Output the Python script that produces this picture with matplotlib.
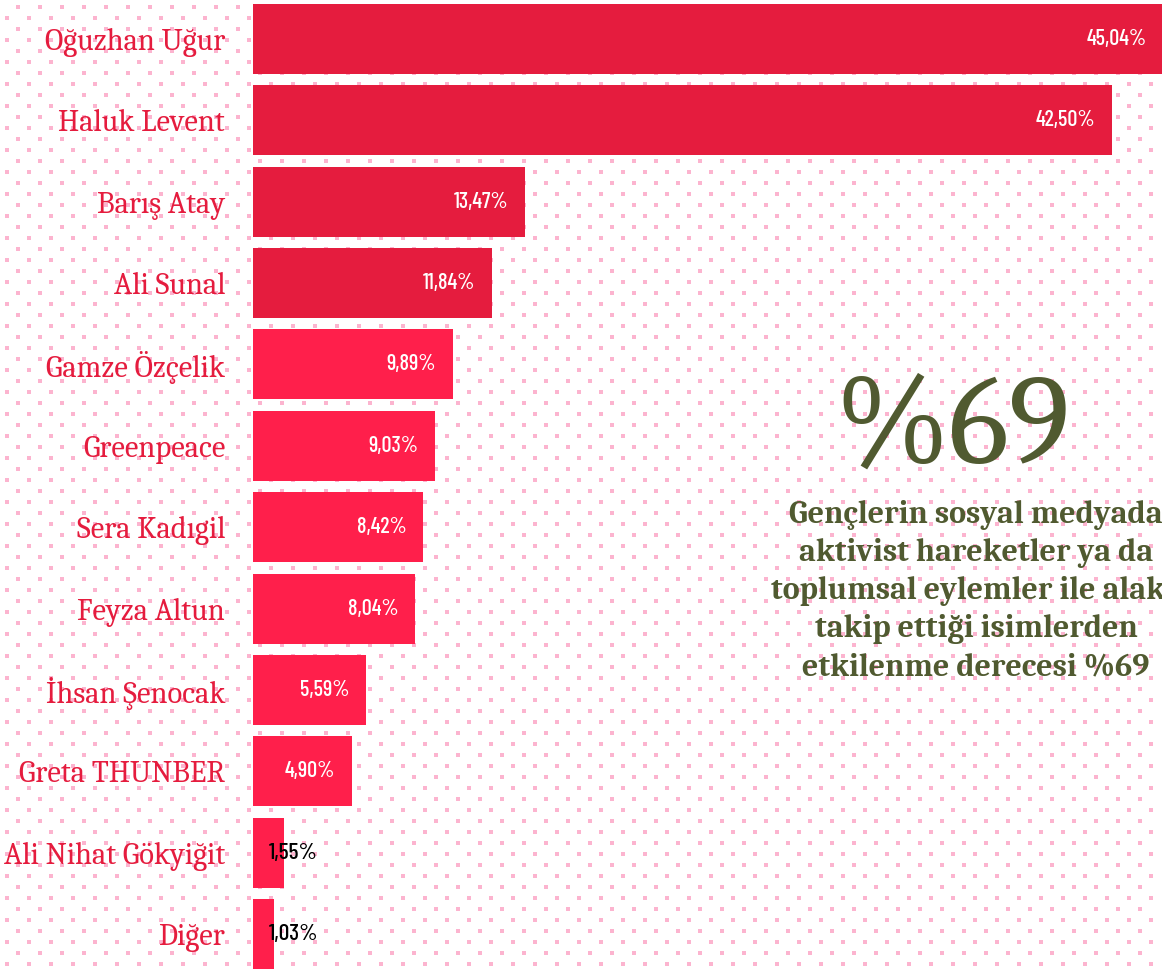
import numpy as np
import matplotlib
matplotlib.use("Agg")
import matplotlib.pyplot as plt

names = ["Oğuzhan Uğur", "Haluk Levent", "Barış Atay", "Ali Sunal", "Gamze Özçelik",
         "Greenpeace", "Sera Kadıgil", "Feyza Altun", "İhsan Şenocak", "Greta THUNBER",
         "Ali Nihat Gökyiğit", "Diğer"]
values = [45.04, 42.50, 13.47, 11.84, 9.89, 9.03, 8.42, 8.04, 5.59, 4.90, 1.55, 1.03]
big_number = "%69"
note_lines = ["Gençlerin sosyal medyada", "aktivist hareketler ya da",
              "toplumsal eylemler ile alaka", "takip ettiği isimlerden",
              "etkilenme derecesi %69"]

dark_red = "#e51c3e"
bright_red = "#ff1f4b"
olive = "#505a30"
serif = ["Caladea", "Liberation Serif", "DejaVu Serif"]
narrow = ["Barlow Condensed", "DejaVu Sans"]

W, H = 1162, 971
fig = plt.figure(figsize=(W / 100, H / 100), dpi=100)
fig.patch.set_facecolor("white")

# dotted background (diagonal grid of small pink squares)
bg = fig.add_axes([0, 0, 1, 1], zorder=0)
bg.set_xlim(0, W)
bg.set_ylim(H, 0)
bg.axis("off")
pts = []
for k, yy in enumerate(np.arange(7, H, 11)):
    start = 7 if k % 2 else 18
    pts += [(x, yy) for x in np.arange(start, W, 22)]
pts = np.array(pts)
bg.scatter(pts[:, 0], pts[:, 1], s=4.8, marker="s", color="#fcb4cf", linewidths=0)

# bars
ax = fig.add_axes([253 / W, -0.004, 910 / W, 1.006], zorder=1)
ax.patch.set_alpha(0)
y = np.arange(len(names))
colors = [dark_red if i < 4 else bright_red for i in range(len(names))]
ax.barh(y, values, height=0.86, color=colors)
ax.set_xlim(0, 45.04)
ax.set_ylim(len(names) - 0.5, -0.5)
ax.set_yticks(y)
ax.set_yticklabels(names, fontsize=22, color=dark_red, family=serif)
ax.tick_params(axis="y", length=0, pad=20)
ax.set_xticks([])
for s in ax.spines.values():
    s.set_visible(False)

for i, v in enumerate(values):
    lab = f"{v:.2f}%".replace(".", ",")
    if v > 3:
        ax.annotate(lab, (v, i), xytext=(-12, 0), textcoords="offset points",
                    ha="right", va="center", color="white", fontsize=16,
                    family=narrow, fontweight=500)
    else:
        ax.annotate(lab, (0, i), xytext=(11.5, 0), textcoords="offset points",
                    ha="left", va="center", color="black", fontsize=17,
                    family=narrow, fontweight=500)

# side note
fig.text(953 / W, 1 - 463 / H, big_number, ha="center", va="baseline",
         fontsize=92, color=olive, family=serif, zorder=3)
for j, line in enumerate(note_lines):
    fig.text(976 / W, 1 - (523 + 38 * j) / H, line, ha="center", va="baseline",
             fontsize=23, fontweight="bold", color=olive, family=serif, zorder=3)

fig.savefig("out.png", dpi=100)
